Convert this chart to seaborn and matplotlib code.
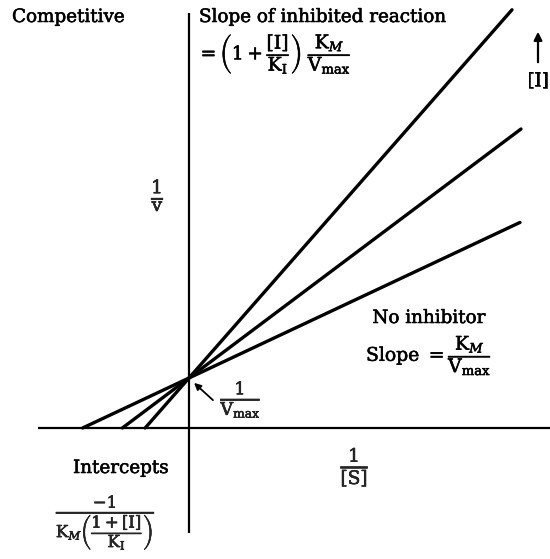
import numpy as np
import pandas as pd
import matplotlib
matplotlib.use("Agg")
import matplotlib.pyplot as plt
import matplotlib.patheffects as pe
import seaborn as sns

# Lineweaver-Burk plot for competitive inhibition (arbitrary units)
inv_vmax = 1.0                      # common y-intercept 1/Vmax
slopes = [0.47, 0.75, 1.14]         # (1 + [I]/K_I) * K_M / Vmax, increasing [I]
x_ends = [6.62, 6.64, 6.46]         # right-hand end of each drawn line (1/[S])
series = ["none", "low", "high"]

rows = []
for name, m, xe in zip(series, slopes, x_ends):
    x0 = -inv_vmax / m
    for xv in (x0, xe):
        rows.append({"inv_S": xv, "inv_v": inv_vmax + m * xv, "inhibitor": name})
df = pd.DataFrame(rows)

sns.set_theme(style="white")
plt.rcParams["font.family"] = ["DejaVu Serif"]
plt.rcParams["mathtext.fontset"] = "dejavuserif"

fig = plt.figure(figsize=(5.5, 5.59), dpi=100)
ax = fig.add_axes([0, 0, 1, 1])
ax.axis("off")

# coordinate axes
ax.plot([0, 0], [-2.1, 8.3], color="black", lw=1.6, solid_capstyle="butt")
ax.plot([-3.02, 7.22], [0, 0], color="black", lw=1.6, solid_capstyle="butt")

sns.lineplot(data=df, x="inv_S", y="inv_v", units="inhibitor", estimator=None,
             color="black", lw=2.4, ax=ax, legend=False)
ax.set_xlim(-3.78, 7.22)
ax.set_ylim(-2.62, 8.56)

heavy = [pe.withStroke(linewidth=0.4, foreground="black")]
fs = 13.2
tkw = dict(color="black", fontsize=fs, path_effects=heavy)
ax.text(-3.54, 8.22, "Competitive", ha="left", va="center", **tkw)
ax.text(0.2, 8.22, "Slope of inhibited reaction", ha="left", va="center", **tkw)
ax.text(0.16, 7.5,
        r"$=\left(1+\dfrac{[\mathrm{I}]}{\mathrm{K_I}}\right)\;\dfrac{\mathrm{K}_M}{\mathrm{V_{max}}}$",
        ha="left", va="center", color="black", fontsize=13.5, path_effects=heavy)

# direction of increasing [I]
ax.annotate("", xy=(6.98, 7.98), xytext=(6.98, 7.26),
            arrowprops=dict(arrowstyle="-|>", color="black", lw=1.6,
                            mutation_scale=12))
ax.text(6.98, 6.95, "[I]", ha="center", va="center", **tkw)

ax.text(-0.62, 4.66, r"$\frac{1}{\mathrm{v}}$", ha="center", va="center",
        fontsize=19, path_effects=heavy)

ax.text(4.8, 2.2, "No inhibitor", ha="center", va="center", **tkw)
ax.text(4.8, 1.46, r"Slope $=\dfrac{\mathrm{K}_M}{\mathrm{V_{max}}}$",
        ha="center", va="center", color="black", fontsize=13.5, path_effects=heavy)

ax.text(1.04, 0.56, r"$\frac{1}{\mathrm{V_{max}}}$", ha="center", va="center",
        fontsize=18, path_effects=heavy)
ax.annotate("", xy=(0.06, 0.94), xytext=(0.52, 0.52),
            arrowprops=dict(arrowstyle="-|>", color="black", lw=1.3,
                            mutation_scale=10))

ax.text(3.32, -0.78, r"$\frac{1}{[\mathrm{S}]}$", ha="center", va="center",
        fontsize=19, path_effects=heavy)

ax.text(-1.36, -0.8, "Intercepts", ha="center", va="center", **tkw)
ax.text(-1.66, -1.9,
        r"$\frac{-1}{\mathrm{K}_M\left(\dfrac{1+[\mathrm{I}]}{\mathrm{K_I}}\right)}$",
        ha="center", va="center", fontsize=17, path_effects=heavy)

fig.savefig("out.png", dpi=100, facecolor="white")
